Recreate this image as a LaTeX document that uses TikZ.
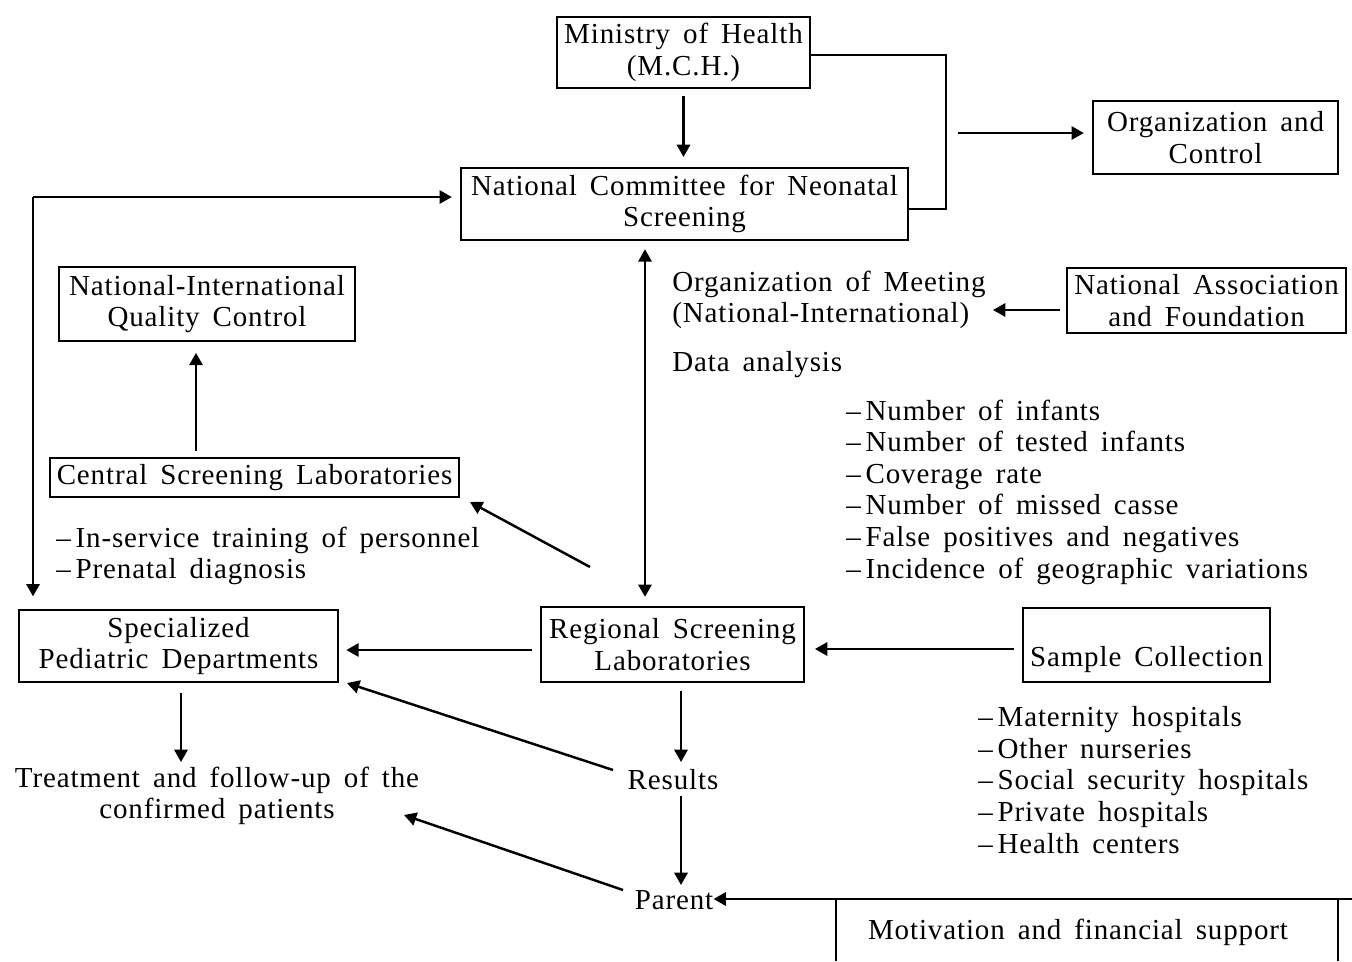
\documentclass[tikz,border=0pt]{standalone}
\usepackage{fontspec}
\setmainfont{Liberation Serif}[WordSpace=1.6,LetterSpace=3]
\usetikzlibrary{arrows.meta}
\begin{document}
\begin{tikzpicture}[x=0.02cm,y=-0.02cm,
  font=\fontsize{16.5}{18}\selectfont,
  box/.style={draw, line width=1.5pt, inner sep=0pt, align=center},
  txt/.style={inner sep=0pt},
  ln/.style={line width=1.4pt},
  arr/.style={ln, -{Triangle[length=7pt,width=7.5pt]}},
  arrtwo/.style={ln, {Triangle[length=7pt,width=7.5pt]}-{Triangle[length=7pt,width=7.5pt]}}]
\useasboundingbox (0,0) rectangle (1352,961);

% boxes
\node[box, minimum width=5.06cm, minimum height=1.42cm] (min) at (683.5,52.5) {Ministry of Health\\(M.C.H.)};
\node[box, minimum width=4.9cm, minimum height=1.46cm] (org) at (1215.5,137.5) {Organization and\\Control};
\node[box, minimum width=8.94cm, minimum height=1.44cm] (ncom) at (684.5,204) {National Committee for Neonatal\\Screening};
\node[box, minimum width=5.92cm, minimum height=1.48cm] (niqc) at (207,304) {National-International\\Quality Control};
\node[box, minimum width=8.18cm, minimum height=0.78cm] (csl) at (254.5,477.5) {Central Screening Laboratories};
\node[box, minimum width=5.58cm, minimum height=1.3cm] (nassoc) at (1206.5,300.5) {National Association\\and Foundation};
\node[box, minimum width=5.26cm, minimum height=1.5cm] (rsl) at (672.5,644.5) {Regional Screening\\Laboratories};
\node[box, minimum width=4.94cm, minimum height=1.48cm, text height=33pt, text depth=9pt] (sc) at (1146.5,645) {Sample Collection};
\node[box, minimum width=6.38cm, minimum height=1.44cm] (spec) at (178.5,646) {Specialized\\Pediatric Departments};

% free texts
\node[txt, anchor=west, align=left] (om) at (672,300) {Organization of Meeting\\(National-International)};
\node[txt, anchor=west] (data) at (672,365) {Data analysis};
\node[txt, anchor=west, align=left] (stats) at (846,492) {--\,Number of infants\\--\,Number of tested infants\\--\,Coverage rate\\--\,Number of missed casse\\--\,False positives and negatives\\--\,Incidence of geographic variations};
\node[txt, anchor=west, align=left] (serv) at (56,556) {--\,In-service training of personnel\\--\,Prenatal diagnosis};
\node[txt, anchor=west, align=left] (hosp) at (978,780) {--\,Maternity hospitals\\--\,Other nurseries\\--\,Social security hospitals\\--\,Private hospitals\\--\,Health centers};
\node[txt, align=center] (treat) at (217,796) {Treatment and follow-up of the\\confirmed patients};
\node[txt] (res) at (673,780) {Results};
\node[txt] (par) at (674,900) {Parent};
\node[txt] (mot) at (1078,932) {Motivation and financial support};

% coordinates
\coordinate (brk) at (946,209);
\coordinate (orgsrc) at (958,133);
\coordinate (lc) at (33,197);
\coordinate (qx) at (196,0);
\coordinate (bx) at (645,0);
\coordinate (rs1) at (590,567);
\coordinate (cs1) at (470,502);
\coordinate (rx) at (681,0);
\coordinate (sx) at (181,0);
\coordinate (res1) at (613,770);
\coordinate (sp1) at (347,683);
\coordinate (par1) at (623,890);
\coordinate (tr1) at (404,815);
\coordinate (edge) at (1352,899);
\coordinate (mbl) at (836,961);
\coordinate (mbr) at (1338,961);

% connectors
\draw[arr, shorten <=4pt, shorten >=5.5pt] (min.south) -- (min.south |- ncom.north);
\draw[ln] (min.east |- 0,55) -| (brk) -- (ncom.east |- brk);
\draw[arr, shorten >=4.5pt] (orgsrc) -- (org.west |- orgsrc);
\draw[arr, shorten >=4.5pt] (lc) -- (ncom.west |- lc);
\draw[arr, shorten >=7pt] (lc) -- (lc |- spec.north);
\draw[arr, shorten <=3.5pt, shorten >=6pt] (csl.north -| qx) -- (niqc.south -| qx);
\draw[arrtwo, shorten <=4.5pt, shorten >=5pt] (ncom.south -| bx) -- (rsl.north -| bx);
\draw[arr, shorten <=3pt] (nassoc.west |- 0,310) -- (993,310);
\draw[arr] (rs1) -- (cs1);
\draw[arr, shorten <=4.5pt, shorten >=5.5pt] (sc.west |- 0,649) -- (rsl.east |- 0,649);
\draw[arr, shorten <=4.5pt, shorten >=4pt] (rsl.west |- 0,650) -- (spec.east |- 0,650);
\draw[arr, shorten <=5.5pt] (spec.south -| sx) -- (sx |- 0,762);
\draw[arr, shorten <=4.5pt] (rsl.south -| rx) -- (rx |- 0,762);
\draw[arr] (res1) -- (sp1);
\draw[arr] (rx |- 0,796) -- (rx |- 0,885);
\draw[arr] (par1) -- (tr1);
\draw[arr] (edge) -- (par.east |- edge);
\draw[ln] (mbl) -- (mbl |- edge);
\draw[ln] (mbr) -- (mbr |- edge);
\end{tikzpicture}
\end{document}
